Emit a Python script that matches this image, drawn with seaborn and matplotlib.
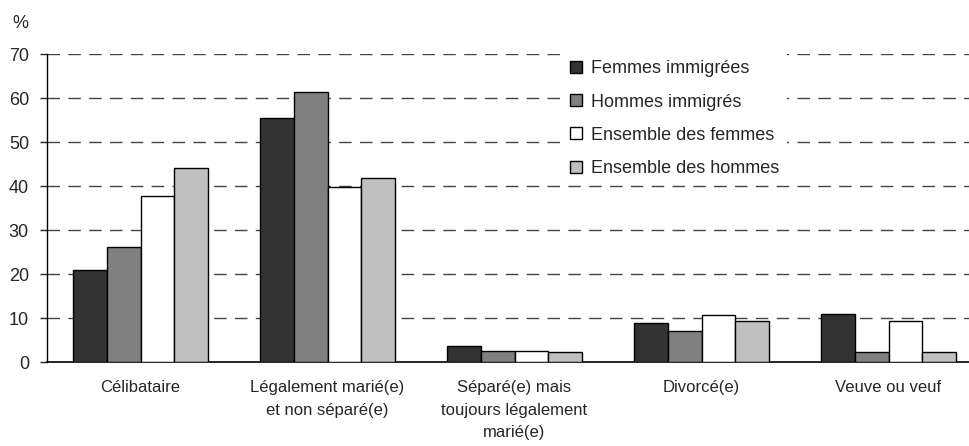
import pandas as pd
import seaborn as sns
import matplotlib.pyplot as plt

# Values (%)
categories = ["Célibataire", "Légalement marié(e)\net non séparé(e)",
              "Séparé(e) mais\ntoujours légalement\nmarié(e)", "Divorcé(e)", "Veuve ou veuf"]
series = ["Femmes immigrées", "Hommes immigrés", "Ensemble des femmes", "Ensemble des hommes"]
femmes_immigrees = [21.0, 55.4, 3.8, 9.0, 10.9]
hommes_immigres = [26.2, 61.4, 2.6, 7.1, 2.3]
ensemble_femmes = [37.8, 39.8, 2.6, 10.8, 9.4]
ensemble_hommes = [44.2, 41.9, 2.3, 9.4, 2.3]
colors = ["#333333", "#808080", "#ffffff", "#c0c0c0"]
yticks = [0, 10, 20, 30, 40, 50, 60, 70]

# Long table for seaborn
rows = []
for name, vals in zip(series, [femmes_immigrees, hommes_immigres, ensemble_femmes, ensemble_hommes]):
    for cat, v in zip(categories, vals):
        rows.append({"cat": cat, "serie": name, "val": v})
data = pd.DataFrame(rows)

sns.set_style("white")
plt.rcParams["font.family"] = ["Liberation Sans", "DejaVu Sans"]
plt.rcParams["lines.scale_dashes"] = False

fig = plt.figure(figsize=(9.69, 4.46), dpi=100)
ax = fig.add_axes([47 / 969, 83.7 / 446, 935 / 969, 308.3 / 446])

sns.barplot(data=data, x="cat", y="val", hue="serie", order=categories, hue_order=series,
            palette=colors, saturation=1, width=0.72, edgecolor="black", linewidth=1,
            errorbar=None, ax=ax, zorder=3)

# Dashed gridlines
for t in yticks[1:]:
    ax.axhline(t, color="#444444", linewidth=1, linestyle=(0, (9, 6)), zorder=1)

ax.set_ylim(0, 70)
ax.set_xlim(-0.5, 4.5)
ax.set_yticks(yticks)
ax.set_xticks(range(len(categories)))
ax.set_xticklabels(categories, fontsize=12, linespacing=1.6)
ax.set_xticks([i - 0.5 for i in range(len(categories) + 1)], minor=True)
ax.tick_params(axis="x", which="major", length=0, pad=13)
ax.tick_params(axis="x", which="minor", length=5, width=1, color="#777777", direction="out")
ax.tick_params(axis="y", length=5, width=1, direction="out", labelsize=13, pad=8, left=True)
ax.set_xlabel("")
ax.set_ylabel("")

for s in ["top", "right"]:
    ax.spines[s].set_visible(False)
ax.spines["left"].set_color("black")
ax.spines["bottom"].set_color("black")
ax.spines["left"].set_linewidth(1)
ax.spines["bottom"].set_linewidth(1.2)

fig.text(20 / 969, 1 - 23 / 446, "%", fontsize=13, ha="center", va="center")

handles, labels = ax.get_legend_handles_labels()
leg = ax.legend(handles, labels, loc="upper left", bbox_to_anchor=(0.552, 1.003),
                fontsize=13, frameon=True, framealpha=1, facecolor="white", edgecolor="none",
                fancybox=False, handlelength=0.65, handleheight=0.65, handletextpad=0.5,
                labelspacing=0.9, borderpad=0.4, borderaxespad=0)
leg.set_zorder(5)

fig.savefig("out.png", dpi=100)
